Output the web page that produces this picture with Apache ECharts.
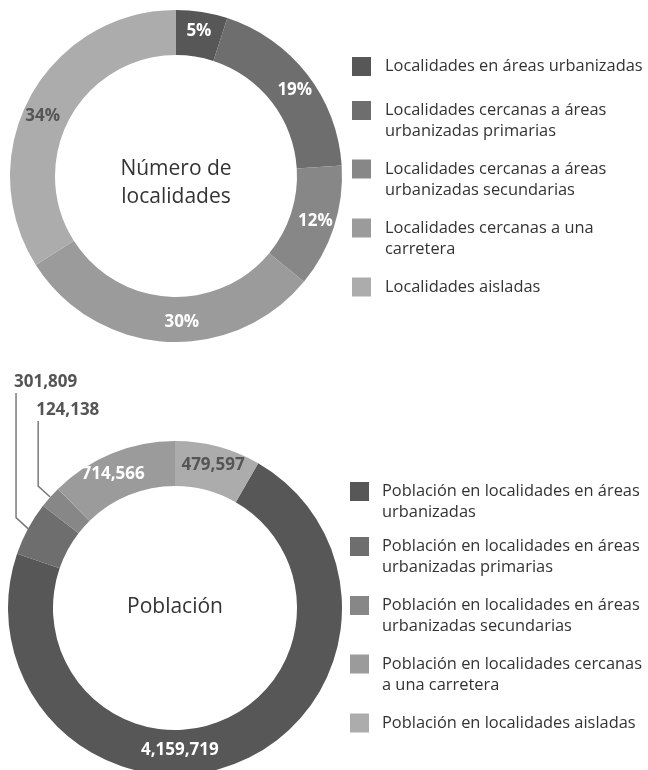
<!DOCTYPE html>
<html><head><meta charset="utf-8">
<script src="https://cdn.jsdelivr.net/npm/echarts@6/dist/echarts.min.js"></script>
<style>html,body{margin:0;padding:0;background:#fff}#c{width:648px;height:770px}</style>
</head><body><div id="c"></div>
<script>
// ---- data ----
const localidadesCategories = [
  'Localidades en áreas urbanizadas',
  'Localidades cercanas a áreas\nurbanizadas primarias',
  'Localidades cercanas a áreas\nurbanizadas secundarias',
  'Localidades cercanas a una\ncarretera',
  'Localidades aisladas'
];
const localidadesPct = [5, 19, 12, 30, 34];

const poblacionCategories = [
  'Población en localidades en áreas\nurbanizadas',
  'Población en localidades en áreas\nurbanizadas primarias',
  'Población en localidades en áreas\nurbanizadas secundarias',
  'Población en localidades cercanas\na una carretera',
  'Población en localidades aisladas'
];
const poblacionValues = [4159719, 301809, 124138, 714566, 479597];

const centerTitles = ['Número de\nlocalidades', 'Población'];

// ---- styles / layout ----
const colors = ['#575757', '#6e6e6e', '#878787', '#9b9b9b', '#acacac'];
const FONT = '"Open Sans", sans-serif';
const topCenter = [176, 176], topRadius = [121, 166];
const botCenter = [175, 608], botRadius = [122, 167];
const topLabelColors = ['#fff', '#fff', '#fff', '#fff', '#555'];
const botLabelColors = ['#fff', '#555', '#555', '#fff', '#555'];
const topLabelShift = {1: [3, 4], 3: [15, 0], 4: [-5, 11]};
const botLabelShift = {0: [-47, 4], 3: [-6, 3]};
const outsideLabelY = {1: 382, 2: 410};      // leader-line labels
const topLegendY = [66.5, 110.5, 169, 228, 287];
const botLegendY = [491.5, 546.5, 605.5, 664, 723];

const fmt = v => v.toLocaleString('en-US');
const total = poblacionValues.reduce((a, b) => a + b, 0);
const lastFrac = poblacionValues[poblacionValues.length - 1] / total;
// the last category (aisladas) occupies the wedge just right of 12 o'clock
const botStartCW = 360 * lastFrac; // clockwise degrees from top where first slice begins

function midAngleCW(i) {
  let acc = 0;
  for (let k = 0; k < i; k++) acc += poblacionValues[k];
  acc += poblacionValues[i] / 2;
  return botStartCW + 360 * acc / total;
}

const legends = [];
function addLegends(cats, ys, x, padLeft) {
  cats.forEach((name, i) => {
    const two = name.indexOf('\n') >= 0;
    const lh = 21;
    const block = two ? lh * 3 : lh;
    legends.push({
      data: [name], left: x, top: ys[i] - block / 2,
      orient: 'vertical', icon: 'rect', itemWidth: 19, itemHeight: 19,
      padding: 0, itemGap: 0, selectedMode: false,
      itemStyle: {borderWidth: 0},
      formatter: n => (n.indexOf('\n') >= 0 ? ' \n' + n : n),
      textStyle: {fontFamily: FONT, fontSize: 16.4, color: '#333', lineHeight: lh,
        padding: [0, 0, 0, padLeft]}
    });
  });
}
addLegends(localidadesCategories, topLegendY, 352, 9);
addLegends(poblacionCategories, botLegendY, 350, 8);

const topData = localidadesCategories.map((n, i) => ({
  name: n, value: localidadesPct[i],
  itemStyle: {color: colors[i]},
  label: {color: topLabelColors[i]}
}));
const botData = poblacionCategories.map((n, i) => {
  const d = {name: n, value: poblacionValues[i], itemStyle: {color: colors[i]},
    label: {color: botLabelColors[i]}};
  if (outsideLabelY[i] != null) {
    d.label.position = 'outside';
    d.labelLine = {show: true, smooth: false, lineStyle: {color: '#7a7a7a', width: 1.5}};
  }
  return d;
});

const chart = echarts.init(document.getElementById('c'), null, {renderer: 'canvas'});
chart.setOption({
  animation: false,
  backgroundColor: '#fff',
  legend: legends,
  graphic: [
    {type: 'text', x: topCenter[0], y: 183, style: {text: centerTitles[0], font: '21px ' + FONT,
      fill: '#333', align: 'center', verticalAlign: 'middle', textAlign: 'center', textVerticalAlign: 'middle', lineHeight: 28}},
    {type: 'text', x: botCenter[0], y: 607, style: {text: centerTitles[1], font: '21px ' + FONT,
      fill: '#333', align: 'center', verticalAlign: 'middle', textAlign: 'center', textVerticalAlign: 'middle'}}
  ],
  series: [
    {
      type: 'pie', center: topCenter, radius: topRadius, startAngle: 90, clockwise: true,
      avoidLabelOverlap: false, silent: true,
      label: {show: true, position: 'inside', formatter: '{c}%', fontFamily: FONT, fontSize: 17, fontWeight: 'bold'},
      labelLine: {show: false},
      labelLayout: p => { const o = topLabelShift[p.dataIndex]; return o ? {dx: o[0], dy: o[1]} : {}; },
      data: topData
    },
    {
      type: 'pie', center: botCenter, radius: botRadius, startAngle: 90 - botStartCW, clockwise: true,
      avoidLabelOverlap: false, silent: true,
      label: {show: true, position: 'inside', formatter: p => fmt(p.value), fontFamily: FONT, fontSize: 17, fontWeight: 'bold'},
      labelLine: {show: false},
      labelLayout: p => {
        const i = p.dataIndex;
        if (outsideLabelY[i] != null) {
          const a = midAngleCW(i) * Math.PI / 180;
          const x0 = botCenter[0] + botRadius[1] * Math.sin(a);
          const y0 = botCenter[1] - botRadius[1] * Math.cos(a);
          const x1 = x0 - 12, y1 = y0 - 11;
          const ly = outsideLabelY[i];
          return {x: x1 - 2, y: ly, align: 'left', verticalAlign: 'middle',
            labelLinePoints: [[x0, y0], [x1, y1], [x1, ly + 11]]};
        }
        const o = botLabelShift[i];
        return o ? {dx: o[0], dy: o[1]} : {};
      },
      data: botData
    }
  ]
});
</script></body></html>
